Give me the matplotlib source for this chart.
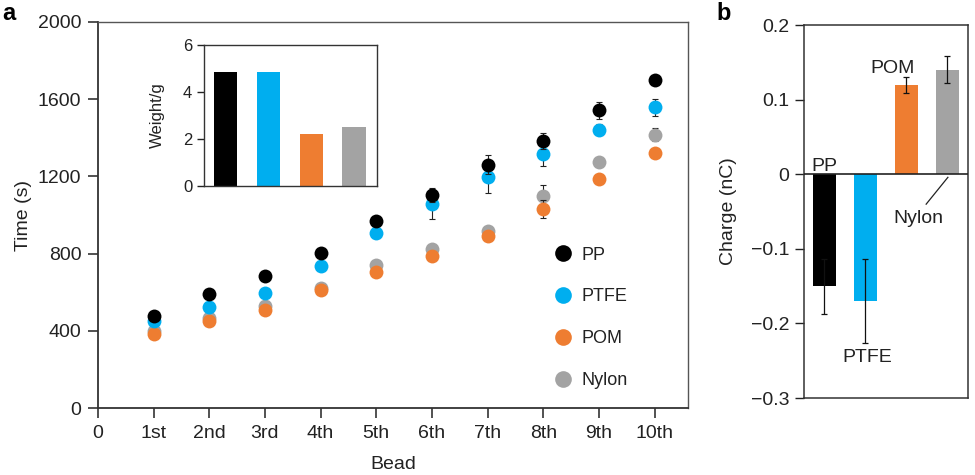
import numpy as np
import matplotlib
matplotlib.use('Agg')
from matplotlib import pyplot as plt

plt.rcParams['font.family'] = ['Liberation Sans', 'DejaVu Sans']
plt.rcParams['axes.unicode_minus'] = True

# data
beads = ['0', '1st', '2nd', '3rd', '4th', '5th', '6th', '7th', '8th', '9th', '10th']
materials = ['PP', 'PTFE', 'POM', 'Nylon']
colors = ['#000000', '#00AEEF', '#EE7D31', '#A3A3A3']

pp_time = [478, 591, 682, 805, 969, 1104, 1261, 1383, 1543, 1699]
ptfe_time = [449, 525, 595, 736, 908, 1057, 1195, 1318, 1443, 1557]
pom_time = [386, 452, 510, 609, 704, 788, 892, 1031, 1188, 1322]
nylon_time = [400, 466, 530, 623, 739, 826, 918, 1099, 1275, 1417]

pp_err = [10, 10, 10, 12, 15, 35, 50, 40, 45, 15]
ptfe_err = [10, 10, 10, 12, 25, 80, 80, 65, 30, 45]
pom_err = [10, 10, 10, 10, 12, 12, 15, 45, 15, 20]
nylon_err = [10, 10, 10, 10, 12, 12, 15, 55, 15, 35]

weights = [4.85, 4.85, 2.2, 2.5]

charge = [-0.15, -0.17, 0.12, 0.14]
charge_err = [0.037, 0.056, 0.011, 0.018]

times = [pp_time, ptfe_time, pom_time, nylon_time]
errs = [pp_err, ptfe_err, pom_err, nylon_err]

txt = '#222222'
fs = 14

fig = plt.figure(figsize=(9.75, 4.75), dpi=100, facecolor='white')

# panel a
ax = fig.add_axes([0.1005, 0.141, 0.6051, 0.8127])
x = np.arange(1, 11)
# PP on top, then PTFE, POM over Nylon
for name, t, e, c, z in zip(materials, times, errs, colors, [5, 4, 3, 2]):
    ax.errorbar(x, t, yerr=e, fmt='none', ecolor='#222222', elinewidth=0.8,
                capsize=2, capthick=0.8, zorder=z)
    ax.plot(x, t, 'o', color=c, markersize=10, markeredgewidth=0, zorder=z + 0.5)

ax.set_xlim(0, 10.6)
ax.set_ylim(0, 2000)
ax.set_xticks(np.arange(0, 11))
ax.set_xticklabels(beads)
ax.set_yticks(np.arange(0, 2001, 400))
ax.set_xlabel('Bead', fontsize=fs, color=txt, labelpad=10)
ax.set_ylabel('Time (s)', fontsize=fs, color=txt, labelpad=4)
ax.tick_params(axis='both', direction='out', length=7, width=1.1, labelsize=fs,
               colors=txt)
ax.tick_params(axis='x', pad=5)
ax.tick_params(axis='y', pad=5)
for s in ['left', 'bottom']:
    ax.spines[s].set_linewidth(1.3)
    ax.spines[s].set_color('#333333')
for s in ['top', 'right']:
    ax.spines[s].set_linewidth(1.0)
    ax.spines[s].set_color('#555555')

# legend
handles = [plt.Line2D([], [], marker='o', linestyle='none', color=c,
                      markersize=12, markeredgewidth=0) for c in colors]
leg = ax.legend(handles, materials, loc='lower left',
                bbox_to_anchor=(0.754, 0.026), frameon=False, fontsize=13,
                handletextpad=0.46, labelspacing=1.37, borderpad=0,
                handlelength=1.2)
for t in leg.get_texts():
    t.set_color(txt)

# inset with weights
ins = fig.add_axes([0.2092, 0.6084, 0.1775, 0.2969])
ins.bar(np.arange(4), weights, width=0.55, color=colors)
ins.set_xlim(-0.5, 3.53)
ins.set_ylim(0, 6)
ins.set_xticks([])
ins.set_yticks([0, 2, 4, 6])
ins.set_ylabel('Weight/g', fontsize=12, color=txt, labelpad=13)
ins.tick_params(axis='y', direction='out', length=5, width=1, labelsize=12,
                colors=txt)
for s in ins.spines.values():
    s.set_linewidth(1.0)
    s.set_color('#333333')

# panel b
bx = fig.add_axes([0.8246, 0.162, 0.1682, 0.785])
bx.bar(np.arange(4), charge, width=0.58, color=colors, zorder=2)
bx.errorbar(np.arange(4), charge, yerr=charge_err, fmt='none', ecolor='#111111',
            elinewidth=0.9, capsize=2.5, capthick=0.9, zorder=3)
bx.axhline(0, color='#222222', linewidth=1.2, zorder=4)
bx.set_xlim(-0.5, 3.5)
bx.set_ylim(-0.3, 0.2)
bx.set_xticks([])
bx.set_yticks([-0.3, -0.2, -0.1, 0, 0.1, 0.2])
bx.set_yticklabels(['\u22120.3', '\u22120.2', '\u22120.1', '0', '0.1', '0.2'])
bx.set_ylabel('Charge (nC)', fontsize=fs, color=txt, labelpad=10)
bx.tick_params(axis='y', direction='out', length=6.5, width=1, labelsize=fs,
               colors=txt, pad=4)
for s in bx.spines.values():
    s.set_linewidth(1.1)
    s.set_color('#333333')

bx.text(0.0, 0.011, 'PP', fontsize=fs, color=txt, ha='center', va='center')
bx.text(1.04, -0.246, 'PTFE', fontsize=fs, color=txt, ha='center', va='center')
bx.text(1.67, 0.142, 'POM', fontsize=fs, color=txt, ha='center', va='center')
bx.text(2.28, -0.059, 'Nylon', fontsize=fs, color=txt, ha='center', va='center')
bx.plot([2.48, 3.01], [-0.04, -0.004], color='#222222', linewidth=0.9, zorder=5)

fig.text(0.002, 0.995, 'a', fontsize=17, fontweight='bold', va='top')
fig.text(0.735, 0.995, 'b', fontsize=17, fontweight='bold', va='top')

fig.savefig('out.png', dpi=100, facecolor='white')
